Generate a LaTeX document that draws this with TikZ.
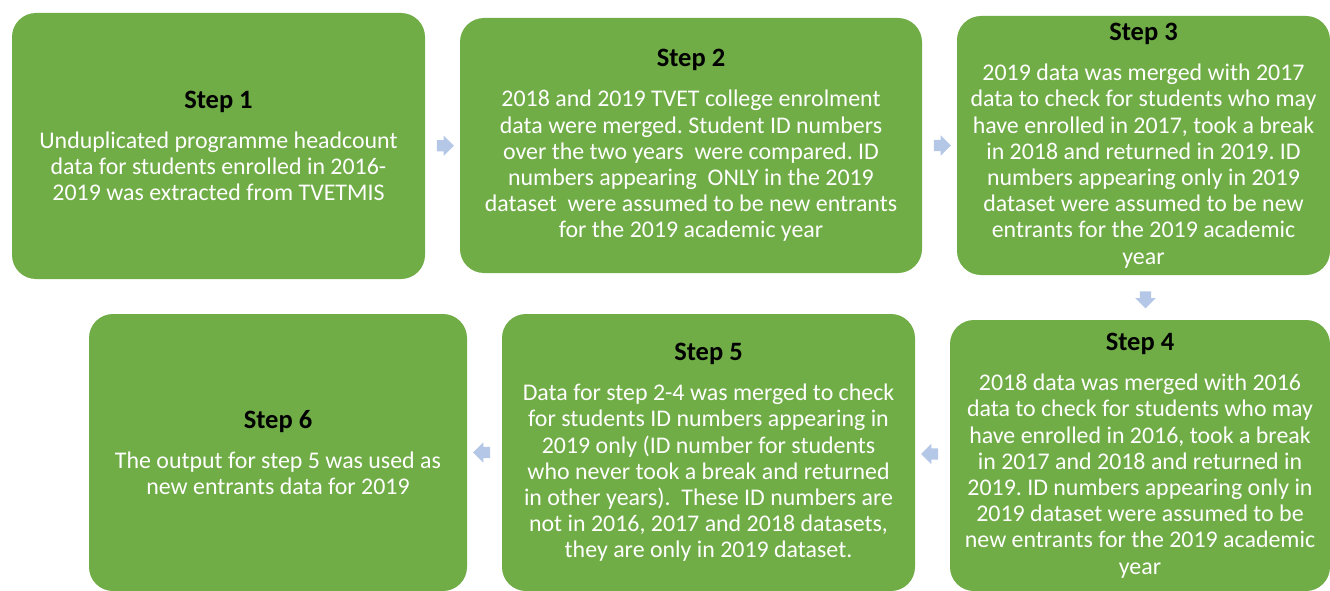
\documentclass[tikz,border=0pt]{standalone}
\usepackage{fontspec}
\setmainfont{Carlito}
\usetikzlibrary{shapes.arrows,calc}
\definecolor{boxgreen}{HTML}{70AD47}
\definecolor{arrowblue}{HTML}{B4C7E7}
\tikzset{
  stepbox/.style={fill=boxgreen, draw=none, rounded corners=24pt, inner sep=0pt, align=center, text=white,
    font=\fontsize{23.9}{26.2}\selectfont},
  flowarrow/.style={single arrow, fill=arrowblue, draw=none, inner xsep=0pt, inner ysep=5.5pt, minimum height=17pt,
    single arrow head extend=4.5pt, single arrow head indent=0pt},
}
\newcommand{\steptitle}[1]{{\color{black}\fontsize{26.5}{26}\selectfont\bfseries #1}\\[14pt]}
\begin{document}
\frenchspacing
\begin{tikzpicture}[x=1pt,y=-1pt]
\useasboundingbox (0,0) rectangle (1330,591);
\begin{scope}
\clip (0,0) rectangle (1330,591);
\node[stepbox, minimum width=413pt, minimum height=266pt] (s1) at (218.5,146) {\steptitle{Step 1}Unduplicated programme headcount\\data for students enrolled in 2016-\\2019 was extracted from TVETMIS};
\node[stepbox, minimum width=462pt, minimum height=255pt] (s2) at (691,145.5) {\steptitle{Step 2}2018 and 2019 TVET college enrolment\\data were merged. Student ID numbers\\over the two years\ \ were compared. ID\\numbers appearing\ \ ONLY in the 2019\\dataset\ \ were assumed to be new entrants\\for the 2019 academic year};
\node[stepbox, minimum width=373pt, minimum height=259pt] (s3) at (1143.5,145.5) {\steptitle{Step 3}2019 data was merged with 2017\\data to check for students who may\\have enrolled in 2017, took a break\\in 2018 and returned in 2019. ID\\numbers appearing only in 2019\\dataset were assumed to be new\\entrants for the 2019 academic\\year};
\node[stepbox, minimum width=380pt, minimum height=271pt] (s4) at (1140,455.5) {\steptitle{Step 4}2018 data was merged with 2016\\data to check for students who may\\have enrolled in 2016, took a break\\in 2017 and 2018 and returned in\\2019. ID numbers appearing only in\\2019 dataset were assumed to be\\new entrants for the 2019 academic\\year};
\node[stepbox, minimum width=413pt, minimum height=277pt] (s5) at (708.5,452.5) {\steptitle{Step 5}Data for step 2-4 was merged to check\\for students ID numbers appearing in\\2019 only (ID number for students\\who never took a break and returned\\in other years).\ \ These ID numbers are\\not in 2016, 2017 and 2018 datasets,\\they are only in 2019 dataset.};
\node[stepbox, minimum width=378pt, minimum height=277pt] (s6) at (278,452.5) {\steptitle{Step 6}The output for step 5 was used as\\new entrants data for 2019};
\end{scope}
\node[flowarrow] (a1) at ($(s1.east)!0.5!(s2.west)$) {};
\node[flowarrow] (a2) at ($(s2.east)!0.5!(s3.west)$) {};
\node[flowarrow, shape border rotate=270, inner xsep=5.5pt, inner ysep=0pt] (a3) at (1145.5,297) {};
\node[flowarrow, shape border rotate=180] (a4) at ($(s4.west)!0.5!(s5.east)$) {};
\node[flowarrow, shape border rotate=180] (a5) at ($(s5.west)!0.5!(s6.east)$) {};
\end{tikzpicture}
\end{document}
